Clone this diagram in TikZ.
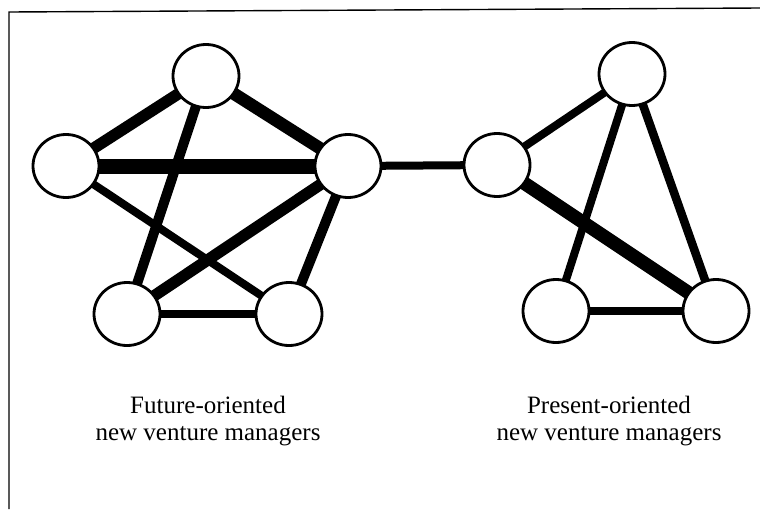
\documentclass[tikz,border=0pt]{standalone}
\usepackage{fontspec}
\setmainfont{Liberation Serif}
\usetikzlibrary{shapes.geometric}
\pgfdeclarelayer{background}
\pgfsetlayers{background,main}

\tikzset{
  person/.style={ellipse, draw=black, line width=2.8pt, fill=white,
    minimum width=66pt, minimum height=63pt, inner sep=0pt},
  tie/.style={draw=black, line width=#1},
  caption/.style={align=center, font=\fontsize{25}{27.5}\selectfont, inner sep=0pt},
  frameline/.style={draw=black, line width=1.4pt}
}

\begin{document}
\begin{tikzpicture}[x=1pt, y=-1pt]
  \useasboundingbox (0,0) rectangle (760,509);

  % open frame (top and left edges)
  \coordinate (fbl) at (9,509);
  \coordinate (ftl) at (9,12);
  \coordinate (ftr) at (760,8);
  \draw[frameline] (fbl) -- (ftl) -- (ftr);

  % future-oriented group
  \node[person] (fT)  at (206,76)  {};
  \node[person] (fL)  at (66,166)  {};
  \node[person] (fR)  at (348,166) {};
  \node[person] (fBL) at (127,314) {};
  \node[person] (fBR) at (289,314) {};

  % present-oriented group
  \node[person] (pT)  at (632,74)  {};
  \node[person] (pL)  at (497,165) {};
  \node[person] (pBL) at (556,311) {};
  \node[person] (pBR) at (716,311) {};

  \begin{pgfonlayer}{background}
    % ties within the future-oriented group
    \draw[tie=15pt]  (fL.center) -- (fR.center);
    \draw[tie=12.5pt](fT.center) -- (fR.center);
    \draw[tie=11.5pt](fL.center) -- (fT.center);
    \draw[tie=10pt]  (fT.center) -- (fBL.center);
    \draw[tie=11.5pt](fR.center) -- (fBL.center);
    \draw[tie=10pt]  (fR.center) -- (fBR.center);
    \draw[tie=8pt]   (fL.center) -- (fBR.center);
    \draw[tie=8pt]   (fBL.center) -- (fBR.center);
    % bridge between the groups
    \draw[tie=8pt]   (fR.center) -- (pL.center);
    % ties within the present-oriented group
    \draw[tie=8pt]   (pL.center) -- (pT.center);
    \draw[tie=8pt]   (pT.center) -- (pBL.center);
    \draw[tie=8.5pt] (pT.center) -- (pBR.center);
    \draw[tie=13.5pt](pL.center) -- (pBR.center);
    \draw[tie=8.5pt] (pBL.center) -- (pBR.center);
  \end{pgfonlayer}

  \node[caption] (capF) at (208,421) {Future-oriented\\new venture managers};
  \node[caption] (capP) at (609,421) {Present-oriented\\new venture managers};
\end{tikzpicture}
\end{document}
